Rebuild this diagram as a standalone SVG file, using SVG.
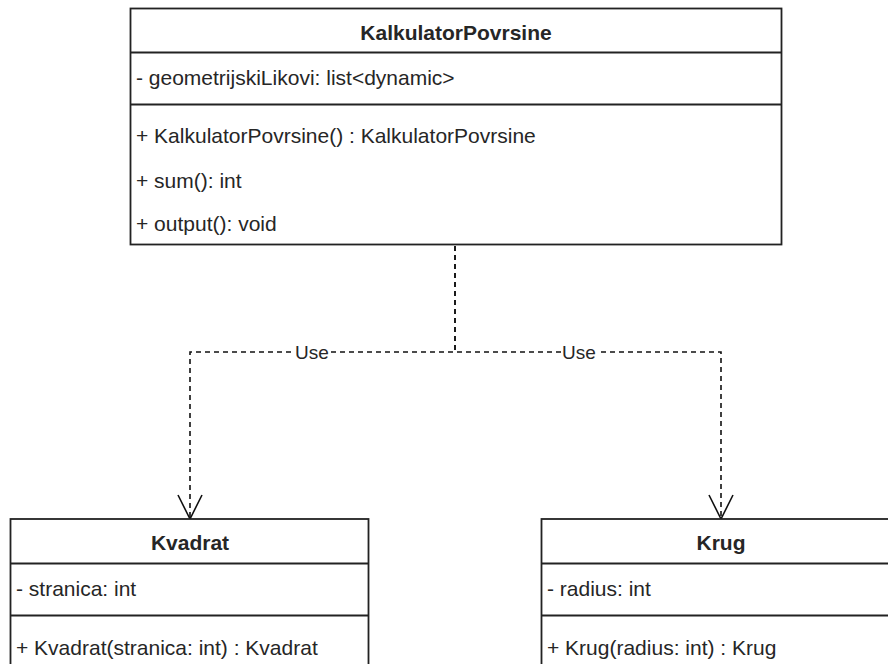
<svg xmlns="http://www.w3.org/2000/svg" width="888" height="664" viewBox="0 0 888 664">
<style>
.box{fill:#fff;stroke:#222;stroke-width:1.8}
.div{stroke:#222;stroke-width:1.8}
.t{font-family:"Liberation Sans",Arial,sans-serif;font-size:21px;fill:#262626}
.b{font-weight:bold;text-anchor:middle}
.edge{fill:none;stroke:#111;stroke-width:1.6;stroke-dasharray:5 4}
.arrow{fill:none;stroke:#111;stroke-width:1.6}
.lbl{font-family:"Liberation Sans",Arial,sans-serif;font-size:19px;fill:#262626;text-anchor:middle}
</style>
<rect width="888" height="664" fill="#fff"/>
<g id="connectors">
  <path class="edge" d="M455 246 V352 H190 V517"/>
  <path class="edge" d="M455 246 V352 H721 V517"/>
  <path class="arrow" d="M178 495 L190 519 L202 495"/>
  <path class="arrow" d="M709 495 L721 519 L733 495"/>
  <rect x="294" y="341" width="36" height="22" fill="#fff"/>
  <text class="lbl" x="312" y="359">Use</text>
  <rect x="561" y="341" width="36" height="22" fill="#fff"/>
  <text class="lbl" x="579" y="359">Use</text>
</g>
<g id="KalkulatorPovrsine">
  <rect class="box" x="130.5" y="8.5" width="651" height="236"/>
  <line class="div" x1="130.5" y1="52.5" x2="781.5" y2="52.5"/>
  <line class="div" x1="130.5" y1="104.5" x2="781.5" y2="104.5"/>
  <text class="t b" x="456" y="39.5">KalkulatorPovrsine</text>
  <text class="t" x="136" y="85">- geometrijskiLikovi: list&lt;dynamic&gt;</text>
  <text class="t" x="136" y="142.5">+ KalkulatorPovrsine() : KalkulatorPovrsine</text>
  <text class="t" x="136" y="187.5">+ sum(): int</text>
  <text class="t" x="136" y="230.5">+ output(): void</text>
</g>
<g id="Kvadrat">
  <rect class="box" x="10.5" y="519" width="358" height="160"/>
  <line class="div" x1="10.5" y1="563.5" x2="368.5" y2="563.5"/>
  <line class="div" x1="10.5" y1="615.5" x2="368.5" y2="615.5"/>
  <text class="t b" x="190" y="549.5">Kvadrat</text>
  <text class="t" x="16" y="595.5">- stranica: int</text>
  <text class="t" x="16" y="655">+ Kvadrat(stranica: int) : Kvadrat</text>
</g>
<g id="Krug">
  <rect class="box" x="541.5" y="519" width="360" height="160"/>
  <line class="div" x1="541.5" y1="563.5" x2="901" y2="563.5"/>
  <line class="div" x1="541.5" y1="615.5" x2="901" y2="615.5"/>
  <text class="t b" x="721" y="549.5">Krug</text>
  <text class="t" x="547" y="595.5">- radius: int</text>
  <text class="t" x="547" y="655">+ Krug(radius: int) : Krug</text>
</g>
</svg>
